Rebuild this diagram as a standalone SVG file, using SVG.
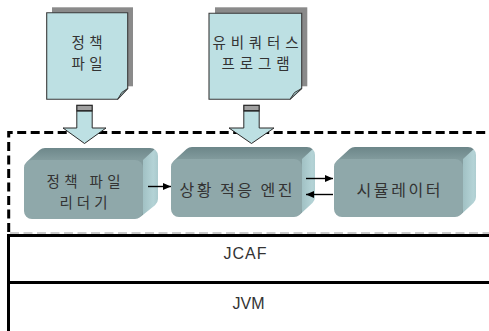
<svg xmlns="http://www.w3.org/2000/svg" width="489" height="331" viewBox="0 0 489 331">
<style>
.doc{fill:#bde0e3;stroke:#3a3a3a;stroke-width:1.1}
.fold{fill:#a6cdd1;stroke:#3a3a3a;stroke-width:1}
.shadow{fill:#8a8a8a}
.blk{fill:#bde0e3;stroke:#2a2a2a;stroke-width:1}
.band{fill:#a0a0a0;stroke:#222;stroke-width:1.2}
.kr{font-family:"Noto Sans CJK KR","Noto Sans CJK SC",sans-serif;font-size:16px;fill:#333;text-anchor:middle}
.kr2{font-family:"Noto Sans CJK KR","Noto Sans CJK SC",sans-serif;font-size:14.5px;fill:#333;text-anchor:middle}
.en{font-family:"Liberation Sans",Arial,sans-serif;font-size:16px;fill:#333;text-anchor:middle}
.front{fill:#8fa8aa}
.msk{fill:#fff;stroke:#fff;stroke-width:16;stroke-linejoin:round}
.ln{stroke:#000;stroke-width:1.4;fill:none}
</style>
<defs>
<linearGradient id="gTop" gradientUnits="userSpaceOnUse" x1="0" y1="147" x2="0" y2="160">
<stop offset="0" stop-color="#6c8689"/><stop offset="1" stop-color="#839c9e"/>
</linearGradient>
<linearGradient id="gSide" x1="0" y1="0" x2="1" y2="0">
<stop offset="0" stop-color="#a1c1c4"/><stop offset="0.6" stop-color="#b4d3d6"/><stop offset="1" stop-color="#a6c6c9"/>
</linearGradient>
<marker id="ah" markerUnits="userSpaceOnUse" markerWidth="9" markerHeight="7" refX="8" refY="3.5" orient="auto">
<path d="M0,0 L8,3.5 L0,7 Z" fill="#000"/>
</marker>
<mask id="m1" maskUnits="userSpaceOnUse" x="0" y="0" width="489" height="331">
<path class="msk" d="M32,211 V168 L45,156 H150 V199 L135,211 Z"/>
</mask>
<mask id="m2" maskUnits="userSpaceOnUse" x="0" y="0" width="489" height="331">
<path class="msk" d="M179,209 V167 L192,155 H307 V197 L294,209 Z"/>
</mask>
<mask id="m3" maskUnits="userSpaceOnUse" x="0" y="0" width="489" height="331">
<path class="msk" d="M342,209 V167 L355,155 H468 V197 L455,209 Z"/>
</mask>
</defs>
<rect width="489" height="331" fill="#fff"/>

<!-- framework layers -->
<g id="container">
<path d="M8.7,232 V132.5 H489" fill="none" stroke="#000" stroke-width="3" stroke-dasharray="9 4.5"/>
<line x1="10" y1="233" x2="489" y2="233" stroke="#999" stroke-width="1" stroke-dasharray="9 4.5"/>
</g>
<g id="jcaf">
<path d="M8.5,331 V235.5 H489" fill="none" stroke="#000" stroke-width="3"/>
<text class="en" x="245" y="259" textLength="43">JCAF</text>
</g>
<g id="jvm">
<line x1="8.5" y1="282.5" x2="489" y2="282.5" stroke="#000" stroke-width="3"/>
<text class="en" x="248.5" y="309">JVM</text>
</g>

<!-- documents -->
<g id="doc-policy">
<rect class="shadow" x="52" y="7.3" width="81" height="79"/>
<path class="doc" d="M46.7,12.7 H127.7 V88.5 L117.7,99.3 H46.7 Z"/>
<path class="fold" d="M117.7,99.3 L121.7,92.5 L127.7,88.5 Z"/>
<text class="kr2" x="87" y="47.8" textLength="31">정책</text>
<text class="kr2" x="87" y="68.8" textLength="31">파일</text>
</g>
<g id="doc-ubiq">
<rect class="shadow" x="215" y="7.3" width="92.3" height="79"/>
<path class="doc" d="M209,13.3 H301.7 V88.5 L290,99.3 H209 Z"/>
<path class="fold" d="M290,99.3 L294.5,92.5 L301.7,88.5 Z"/>
<text class="kr2" x="255.5" y="48" textLength="86">유비쿼터스</text>
<text class="kr2" x="255.5" y="69" textLength="68">프로그램</text>
</g>

<!-- 3D boxes -->
<g id="reader">
<g mask="url(#m1)">
<rect x="20" y="140" width="150" height="85" fill="url(#gTop)"/>
<polygon points="143,160 156,148 160,148 160,222 143,222" fill="url(#gSide)"/>
<rect class="front" x="24" y="160" width="119" height="59" rx="8"/>
</g>
<text class="kr2" x="83.5" y="186.5" textLength="74">정책 파일</text>
<text class="kr2" x="83.5" y="207.5" textLength="48">리더기</text>
</g>
<g id="engine">
<g mask="url(#m2)">
<rect x="166" y="140" width="155" height="85" fill="url(#gTop)"/>
<polygon points="302,159 315,147 319,147 319,220 302,220" fill="url(#gSide)"/>
<rect class="front" x="171" y="159" width="131" height="58" rx="8"/>
</g>
<text class="kr" x="236" y="195.8" textLength="113">상황 적응 엔진</text>
</g>
<g id="simulator">
<g mask="url(#m3)">
<rect x="329" y="140" width="155" height="85" fill="url(#gTop)"/>
<polygon points="463,159 476,147 480,147 480,220 463,220" fill="url(#gSide)"/>
<rect class="front" x="334" y="159" width="129" height="58" rx="8"/>
</g>
<text class="kr" x="398.5" y="195.8" textLength="84">시뮬레이터</text>
</g>

<!-- connectors -->
<g id="connectors">
<path class="blk" d="M76.8,111 H92.2 V128 H106 L84.5,143.5 L63,128 H76.8 Z"/>
<rect class="band" x="76.8" y="105.3" width="15.4" height="5.4"/>
<path class="blk" d="M243.8,111 H259.2 V128 H274 L251.5,143.5 L229,128 H243.8 Z"/>
<rect class="band" x="243.8" y="105.3" width="15.4" height="5.4"/>
<line class="ln" x1="148" y1="186.5" x2="171" y2="186.5" marker-end="url(#ah)"/>
<line class="ln" x1="306" y1="178.5" x2="333" y2="178.5" marker-end="url(#ah)"/>
<line class="ln" x1="333" y1="194.5" x2="306" y2="194.5" marker-end="url(#ah)"/>
</g>
</svg>
